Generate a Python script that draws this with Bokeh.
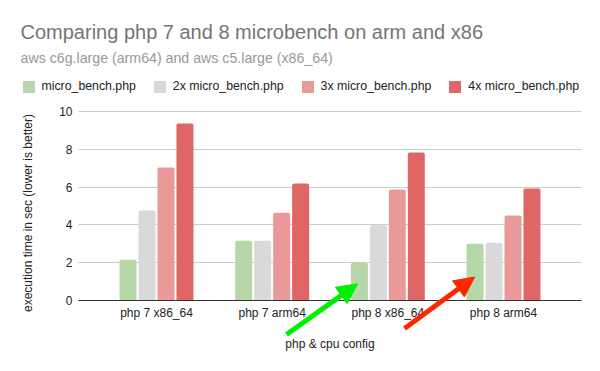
import math
from bokeh.plotting import figure
from bokeh.models import (Range1d, Legend, LegendItem, Label, Arrow,
                          NormalHead, ColumnDataSource, FixedTicker)
from bokeh.transform import dodge
from bokeh.embed import file_html
from bokeh.resources import INLINE

# ---- data ----
categories = ["php 7 x86_64", "php 7 arm64", "php 8 x86_64", "php 8 arm64"]
series_names = ["micro_bench.php", "2x micro_bench.php", "3x micro_bench.php", "4x micro_bench.php"]
bench_1x = [2.15, 3.16, 2.00, 3.00]
bench_2x = [4.76, 3.16, 3.98, 3.05]
bench_3x = [7.04, 4.64, 5.87, 4.50]
bench_4x = [9.37, 6.19, 7.83, 5.93]
y_ticks = [0, 2, 4, 6, 8, 10]

title_text = "Comparing php 7 and 8 microbench on arm and x86"
subtitle_text = "aws c6g.large (arm64) and aws c5.large (x86_64)"
y_label = "execution time in sec (lower is better)"
x_label = "php & cpu config"

# ---- style / layout ----
colors = ["#b6d7a8", "#d9d9d9", "#ea9999", "#e06666"]
FONT = "Liberation Sans"
W, H = 600, 371
X_LO, X_HI = -0.674, 3.674          # chart area extent along x (data units)

positions = list(range(len(categories)))
source = ColumnDataSource(dict(x=positions, s1=bench_1x, s2=bench_2x, s3=bench_3x, s4=bench_4x))

p = figure(width=W, height=H,
           x_range=Range1d(-1.3487, 3.8385), y_range=Range1d(-3.757, 15.873),
           toolbar_location=None, output_backend="svg",
           min_border=0, min_border_left=0, min_border_right=0,
           min_border_top=0, min_border_bottom=0)
p.outline_line_color = None
p.background_fill_color = "white"
p.border_fill_color = "white"

offsets = [-0.246, -0.082, 0.082, 0.246]
fields = ["s1", "s2", "s3", "s4"]
renderers = []
for f, off, c in zip(fields, offsets, colors):
    r = p.vbar(x=dodge("x", off), top=f, width=0.147, bottom=0,
               source=source, fill_color=c, line_color=None, border_radius=(2, 2, 0, 0))
    renderers.append(r)

# axes (placed at fixed data locations)
p.xgrid.grid_line_color = None
p.ygrid.grid_line_color = "#cccccc"
p.ygrid.ticker = FixedTicker(ticks=y_ticks)
p.ygrid.cross_bounds = (X_LO, X_HI)

xa = p.xaxis[0]
ya = p.yaxis[0]
xa.fixed_location = 0
ya.fixed_location = X_LO
xa.bounds = (X_LO, X_HI)
ya.bounds = (0, 10)
xa.ticker = FixedTicker(ticks=positions)
xa.major_label_overrides = {i: c for i, c in zip(positions, categories)}
ya.ticker = FixedTicker(ticks=y_ticks)
ya.axis_line_color = None
xa.axis_line_color = "#333333"
xa.axis_line_width = 1
for ax in (xa, ya):
    ax.major_tick_line_color = None
    ax.minor_tick_line_color = None
    ax.major_tick_in = 0
    ax.major_tick_out = 0
    ax.major_label_text_font = FONT
    ax.major_label_text_font_size = "12px"
    ax.major_label_text_color = "#222222"
    ax.axis_label_text_font = FONT
    ax.axis_label_text_font_size = "12px"
    ax.axis_label_text_font_style = "normal"
    ax.axis_label_text_color = "#222222"
ya.major_label_standoff = 6
xa.major_label_standoff = 6
xa.axis_label = x_label
xa.axis_label_standoff = 13

# y axis title
p.add_layout(Label(x=27, y=158.5, x_units="screen", y_units="screen", text=y_label,
                   angle=math.pi / 2, text_align="center", text_baseline="middle",
                   text_font=FONT, text_font_size="12px", text_color="#222222"))

# legend
legend = Legend(items=[LegendItem(label=n, renderers=[r]) for n, r in zip(series_names, renderers)],
                orientation="horizontal", location=(20.5, 277.5),
                glyph_width=15, glyph_height=15, label_standoff=6, spacing=16,
                padding=0, margin=0, border_line_color=None, background_fill_alpha=0,
                label_text_font=FONT, label_text_font_size="12.3px", label_text_color="#222222",
                label_height=15)
p.add_layout(legend, "center")

# title / subtitle
p.add_layout(Label(x=20, y=340, x_units="screen", y_units="screen", text=title_text,
                   text_font=FONT, text_font_size="20px", text_color="#757575",
                   text_baseline="alphabetic"))
p.add_layout(Label(x=20, y=314, x_units="screen", y_units="screen", text=subtitle_text,
                   text_font=FONT, text_font_size="14.2px", text_color="#999999",
                   text_baseline="alphabetic"))

# annotation arrows
GREEN, RED = "#00ee00", "#ff2600"
p.add_layout(Arrow(x_start=1.124, y_start=-1.80, x_end=1.738, y_end=0.88,
                   line_color=GREEN, line_width=5,
                   end=NormalHead(size=20, fill_color=GREEN, line_color=GREEN)))
p.add_layout(Arrow(x_start=2.144, y_start=-1.48, x_end=2.75, y_end=1.24,
                   line_color=RED, line_width=5,
                   end=NormalHead(size=20, fill_color=RED, line_color=RED)))

open("out.html", "w").write(file_html(p, INLINE))
